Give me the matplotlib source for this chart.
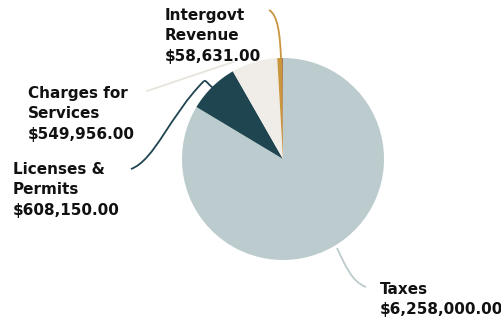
import matplotlib.pyplot as plt
from matplotlib.path import Path
from matplotlib.patches import PathPatch

# revenue by source
labels = ["Taxes", "Licenses &\nPermits", "Charges for\nServices", "Intergovt\nRevenue", ""]
values = [6258000.00, 608150.00, 549956.00, 58631.00, 10000.00]
colors = ["#bccbcd", "#1f4550", "#f0ede8", "#c9963e", "#9b5a2a"]

W, H = 502, 320
fig = plt.figure(figsize=(W / 100, H / 100), dpi=100)
ax = fig.add_axes([0, 0, 1, 1])

cx, cy, r = 283, 161, 101
ax.pie(values, colors=colors, startangle=90, counterclock=False,
       center=(cx, cy), radius=r, frame=True,
       wedgeprops=dict(linewidth=0))
ax.set_xlim(0, W)
ax.set_ylim(0, H)
ax.set_aspect("equal")
ax.axis("off")


def leader(pts, color):
    codes = [Path.MOVETO] + [Path.CURVE4] * (len(pts) - 1)
    ax.add_patch(PathPatch(Path([(x, H - y) for x, y in pts], codes),
                 fc="none", ec=color, lw=1.3))


# leader lines (y measured from the top)
leader([(337, 248), (345, 265), (352, 282), (366, 287)], colors[0])
leader([(213, 88), (208, 84), (206, 80), (204, 81)], colors[1])
leader([(204, 81), (170, 115), (155, 160), (131, 169)], colors[1])
ax.plot([147, 233], [H - 91, H - 62], color="#e8e4dc", lw=1.3)
leader([(281, 58), (280, 35), (278, 15), (269, 10)], colors[3])

txt = dict(fontsize=11, fontweight="bold", color="#111111",
           family="DejaVu Sans", va="top", ha="left", linespacing=1.45)
pos = [(380, 282), (13, 162), (28, 86), (165, 8)]
for (x, y), lab, v in zip(pos, labels, values):
    ax.text(x, H - y, f"{lab}\n${v:,.2f}", **txt)

fig.savefig("out.png", dpi=100)
